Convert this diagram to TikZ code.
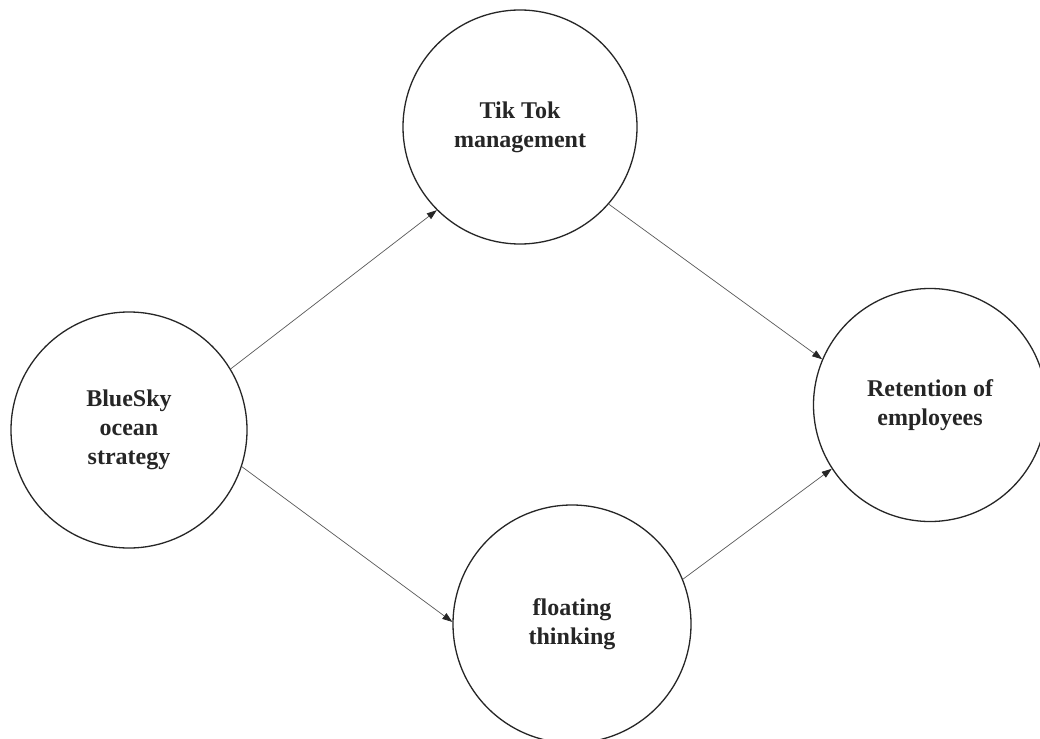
\documentclass[tikz,border=0pt]{standalone}
\usepackage{fontspec}
\setmainfont{Liberation Serif}
\usetikzlibrary{arrows.meta}
\tikzset{
  concept/.style={circle, draw=black!85, line width=1.3pt, inner sep=0pt,
    align=center, font=\fontsize{24}{29}\selectfont\bfseries, text=black!85},
  link/.style={draw=black!65, line width=0.7pt, -{Triangle[length=10pt,width=7pt,black!85]}}
}
\begin{document}
\begin{tikzpicture}[x=1pt,y=-1pt]
\useasboundingbox[fill=white] (0,0) rectangle (1040,738);
\node[concept, minimum size=234pt] (T) at (520,127) {Tik Tok\\management};
\node[concept, minimum size=236pt] (L) at (129,430) {BlueSky\\ocean\\strategy};
\node[concept, minimum size=233pt] (R) at (930,405) {Retention of\\employees};
\node[concept, minimum size=238pt] (B) at (572,624) {floating\\thinking};
\draw[link] (L.31) -- (T.225);
\draw[link] (T.-41) -- (R.157);
\draw[link] (L.-18) -- (B.179);
\draw[link] (B.22) -- (R.213);
\end{tikzpicture}
\end{document}
